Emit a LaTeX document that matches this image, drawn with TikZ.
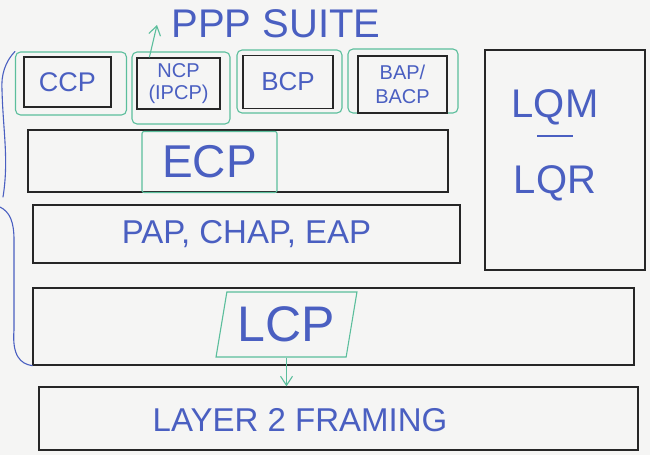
\documentclass[tikz,border=0pt]{standalone}
\usepackage{fontspec}
\setmainfont{Liberation Sans}
\usepackage{xcolor}
\usepackage{tikz}
\usetikzlibrary{positioning,arrows.meta,shapes.geometric}
\definecolor{pen}{HTML}{4A5FC1}
\definecolor{marker}{HTML}{5BBE9C}
\definecolor{ink}{HTML}{262626}
\definecolor{board}{HTML}{F5F5F4}
\newcommand{\hand}[2]{\fontsize{#1}{#2}\selectfont}
\tikzset{
  slab/.style    = {rectangle, draw=ink, line width=1.3pt, inner sep=0pt, text=pen, align=center},
  hilite/.style  = {rectangle, rounded corners=5pt, draw=marker, line width=1.1pt, inner sep=0pt,
                    text=pen, align=center},
  scrawl/.style  = {text=pen, align=center, inner sep=0pt},
  nudge/.style   = {-{Straight Barb[length=3.2mm, width=4.2mm]}, draw=marker, line width=1.1pt},
  brace/.style   = {draw=pen, line width=1.1pt, line cap=round},
}

\begin{document}
\begin{tikzpicture}[x=1pt, y=-1pt]
  \fill[board] (0,0) rectangle (650,455);
  \useasboundingbox (0,0) rectangle (650,455);

  \node[scrawl, font=\hand{40}{40}] (suite) at (276,24) {PPP SUITE};

  % control protocols on top of LCP
  \node[hilite, minimum width=111pt, minimum height=63pt] (ccpmark) at (71,83.5) {};
  \node[slab, minimum width=87pt, minimum height=50pt, font=\hand{27}{27}] (ccp) at (67.5,82) {CCP};
  \node[hilite, minimum width=98pt, minimum height=72pt] (ncpmark) at (181,88) {};
  \node[slab, minimum width=83pt, minimum height=51pt, font=\hand{20}{22}] (ncp) at (178.5,83.5) {NCP\\(IPCP)};
  \node[hilite, minimum width=105pt, minimum height=63pt] (bcpmark) at (289.5,81.5) {};
  \node[slab, minimum width=90pt, minimum height=53pt, font=\hand{26}{26}] (bcp) at (288,82) {BCP};
  \node[hilite, minimum width=110pt, minimum height=64pt] (bacpmark) at (403,81) {};
  \node[slab, minimum width=89pt, minimum height=57pt, font=\hand{20}{24}] (bacp) at (402.5,84.5) {BAP/\\BACP};

  \coordinate (upend) at (157,25);
  \draw[nudge] ([xshift=13pt]ncp.north west) -- (upend);

  % stacked layers
  \node[slab, minimum width=420pt, minimum height=62pt] (ecprow) at (238,161) {};
  \node[hilite, rounded corners=2pt, minimum width=135pt, minimum height=61pt, font=\hand{46}{46}] (ecp) at (209.5,162) {ECP};
  \node[slab, minimum width=427pt, minimum height=58pt, font=\hand{33}{33}] (auth) at (246.5,234) {PAP, CHAP, EAP};

  \node[slab, minimum width=160pt, minimum height=220pt] (quality) at (565,160) {};
  \node[scrawl, font=\hand{40}{38}] (qualitytext) at (555,145) {LQM\\\rule[18pt]{36pt}{2.2pt}\\LQR};

  \node[slab, minimum width=601pt, minimum height=77pt] (lcprow) at (333.5,326.5) {};
  \node[trapezium, trapezium left angle=76, trapezium right angle=104, trapezium stretches=true,
        draw=marker, line width=1.1pt, inner sep=0pt, minimum width=141pt, minimum height=65pt,
        text=pen, font=\hand{50}{50}] (lcp) at (286.5,324.5) {LCP};

  \node[slab, minimum width=599pt, minimum height=63pt] (framing) at (338.5,418.5) {};
  \node[scrawl, font=\hand{33}{33}] (framingtext) at (300,420) {LAYER 2 FRAMING};
  \draw[nudge] (lcp.south) -- (lcp.south |- framing.north);

  % brace over the whole suite
  \draw[brace] (ccpmark.north west) .. controls (5,62) and (1,75) .. (2,90)
    .. controls (3,130) and (9,160) .. (3,197);
  \draw[brace] (0,207) .. controls (10,212) and (14,222) .. (14,240) -- (14,330)
    .. controls (12,355) and (20,364) .. (lcprow.south west);
\end{tikzpicture}
\end{document}
